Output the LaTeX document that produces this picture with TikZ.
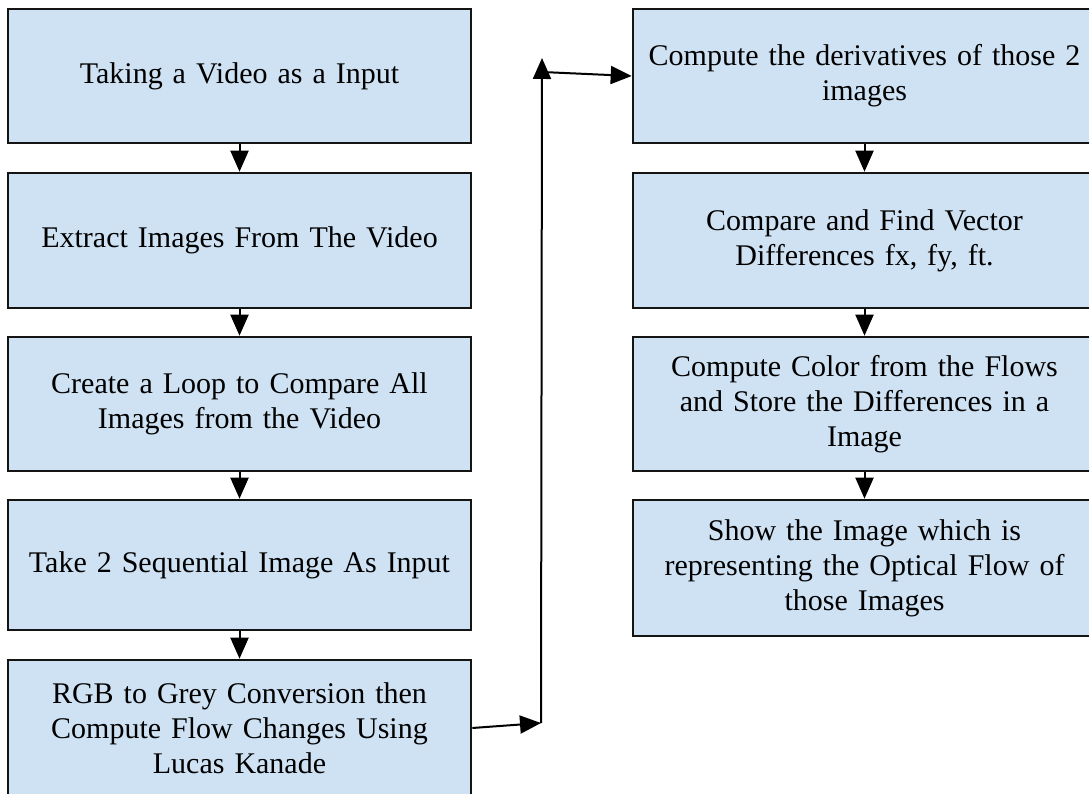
\documentclass[tikz,border=0pt]{standalone}
\usepackage{fontspec}
\setmainfont{Liberation Serif}
\usetikzlibrary{arrows.meta}
\definecolor{boxfill}{RGB}{207,226,243}
\definecolor{boxline}{RGB}{20,20,20}
\tikzset{
  flowbox/.style={draw=boxline, fill=boxfill, line width=2.6pt, rectangle,
    minimum width=463pt, text width=440pt, align=center, inner sep=0pt,
    font=\fontsize{30}{35}\selectfont},
  arr/.style={line width=2pt, draw=black, -{Triangle[length=21pt,width=18pt]}}
}
\begin{document}
\begin{tikzpicture}[x=1pt,y=1pt]
\clip (0,0) rectangle (1089,793);
\fill[white] (0,0) rectangle (1089,793);
% left column (image y flipped: y = 793 - y_img)
\node[flowbox, minimum height=134pt] (L1) at (239.5,717) {Taking a Video as a Input};
\node[flowbox, minimum height=135pt] (L2) at (239.5,552.5) {Extract Images From The Video};
\node[flowbox, minimum height=134pt] (L3) at (239.5,389) {Create a Loop to Compare All\\Images from the Video};
\node[flowbox, minimum height=130pt] (L4) at (239.5,228) {Take 2 Sequential Image As Input};
\node[flowbox, minimum height=136pt] (L5) at (239.5,65) {RGB to Grey Conversion then\\Compute Flow Changes Using\\Lucas Kanade};
% right column
\node[flowbox, minimum height=134pt] (R1) at (864.5,717) {Compute the derivatives of those 2\\images};
\node[flowbox, minimum height=135pt] (R2) at (864.5,552.5) {Compare and Find Vector\\Differences fx, fy, ft.};
\node[flowbox, minimum height=134pt] (R3) at (864.5,389) {Compute Color from the Flows\\and Store the Differences in a\\Image};
\node[flowbox, minimum height=136pt] (R4) at (864.5,225) {Show the Image which is\\representing the Optical Flow of\\those Images};
% connectors
\draw[arr] (L1) -- (L2);
\draw[arr] (L2) -- (L3);
\draw[arr] (L3) -- (L4);
\draw[arr] (L4) -- (L5);
\draw[arr] (R1) -- (R2);
\draw[arr] (R2) -- (R3);
\draw[arr] (R3) -- (R4);
\coordinate (c1) at (541,70);
\coordinate (c2) at (542,735);
\coordinate (c3) at (542,721);
\draw[arr] (L5.east) -- (c1);
\draw[arr] (c1) -- (c2);
\draw[arr] (c3) -- (R1.west);
\end{tikzpicture}
\end{document}
